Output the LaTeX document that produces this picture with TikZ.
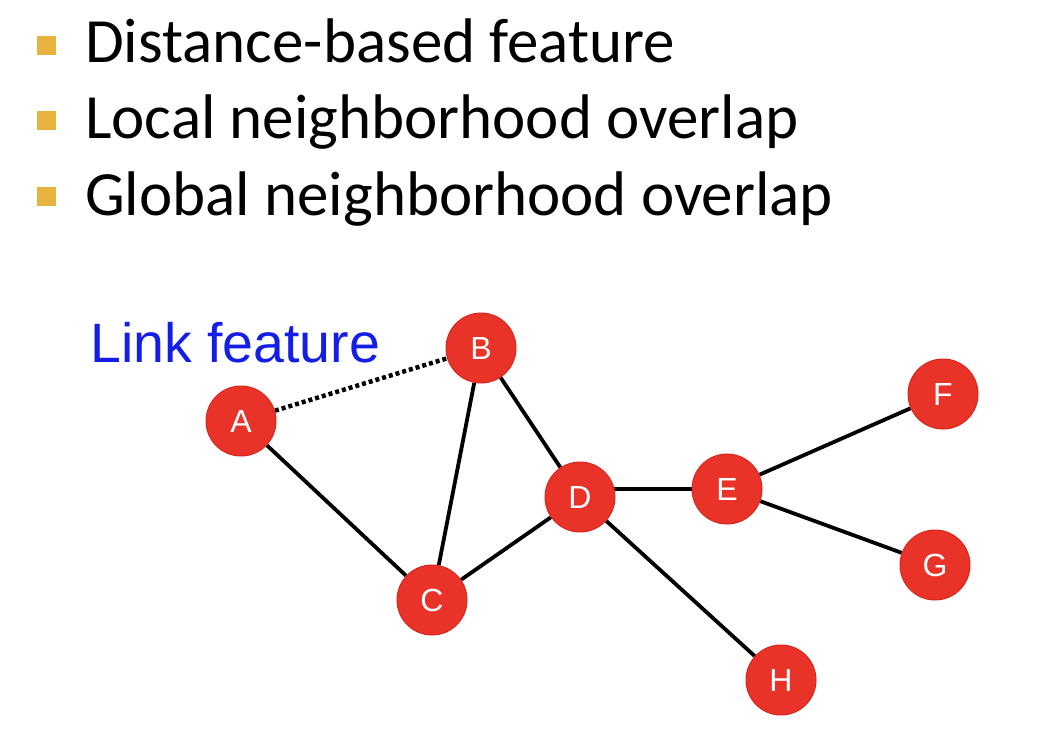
\documentclass[tikz,border=0pt]{standalone}
\usepackage{fontspec}
\setmainfont{Carlito}
\newfontfamily\arialf{Liberation Sans}
\usetikzlibrary{backgrounds}
\definecolor{nodered}{RGB}{233,50,40}
\definecolor{noderedb}{RGB}{215,40,32}
\definecolor{bulletc}{RGB}{230,180,62}
\definecolor{linkblue}{RGB}{20,30,230}
\begin{document}
\begin{tikzpicture}[x=1pt,y=-1pt,
  vert/.style={circle,fill=nodered,draw=noderedb,line width=1pt,minimum size=70pt,inner sep=0pt,text=white,font=\arialf\fontsize{32}{32}\selectfont},
  edge/.style={line width=3.8pt,black},
  bul/.style={fill=bulletc,minimum size=19pt,inner sep=0pt},
  btxt/.style={anchor=base west,inner sep=0pt,font=\fontsize{63}{63}\selectfont}]
\useasboundingbox (0,0) rectangle (1037,744);
\node[bul] (b1) at (46.5,45) {};
\node[bul] (b2) at (46.5,120) {};
\node[bul] (b3) at (46.5,196) {};
\node[btxt] (t1) at (85,62) {Distance-based feature};
\node[btxt] (t2) at (85,138) {Local neighborhood overlap};
\node[btxt] (t3) at (85,215) {Global neighborhood overlap};
\node[anchor=base west,inner sep=0pt,text=linkblue,font=\arialf\fontsize{55.5}{55.5}\selectfont] (lf) at (90,362) {Link feature};
\node[vert] (A) at (241,421) {A};
\node[vert] (B) at (481,348) {B};
\node[vert] (C) at (432,600) {C};
\node[vert] (D) at (580,497) {D};
\node[vert] (E) at (727,489) {E};
\node[vert] (F) at (943,394) {F};
\node[vert] (G) at (935,565) {G};
\node[vert] (H) at (781,680) {H};
\begin{scope}[on background layer]
\draw[line width=4.5pt,dash pattern=on 4pt off 3pt] (A) -- (B);
\draw[edge] (A) -- (C);
\draw[edge] (B) -- (C);
\draw[edge] (B) -- (D);
\draw[edge] (C) -- (D);
\draw[edge] (E) -- (D.center |- E);
\draw[edge] (D) -- (H);
\draw[edge] (E) -- (F);
\draw[edge] (E) -- (G);
\end{scope}
\end{tikzpicture}
\end{document}
